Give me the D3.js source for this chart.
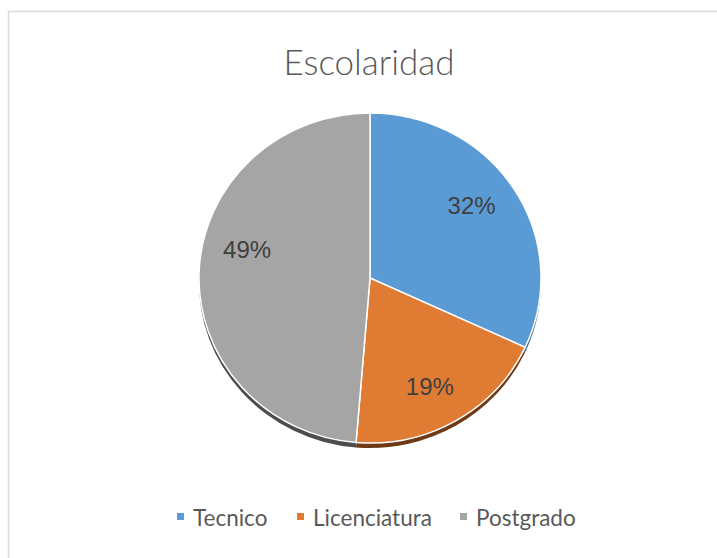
<html>
  <head>
    <meta charset="UTF-8">
    <title>Escolaridad</title>
    <style>
      body { margin: 0; background: #fff; }
      .title { font: 300 35px Lato, "Open Sans", sans-serif; fill: #595959; }
      .label { font: 24px "Liberation Sans", Arial, sans-serif; fill: #404040; }
      .legend text { font: 22.5px Lato, "Open Sans", sans-serif; fill: #595959; }
    </style>
    <script src="https://cdn.jsdelivr.net/npm/d3@7"></script>
  </head>
  <body>
    <script>
      // Chart data
      var categories = ["Tecnico", "Licenciatura", "Postgrado"];
      var values = [31.9, 19.4, 48.7];
      var colors = ["#5b9bd5", "#e07b33", "#a5a5a5"];
      var sideColors = ["#3a6a96", "#6e3a16", "#4d4d4d"];

      // layout: small angular nudge (degrees) of each percent label, like Excel's best fit
      var labelNudge = [-4, 2, 11.5];

      var width = 717, height = 558;
      var cx = 370, cy = 278, rx = 171, ry = 165, depth = 5;

      var svg = d3.select("body").append("svg")
          .attr("width", width)
          .attr("height", height);

      // chart area border
      svg.append("rect")
          .attr("x", 8.5).attr("y", 11.5)
          .attr("width", 720).attr("height", 560)
          .attr("fill", "#fff")
          .attr("stroke", "#d9d9d9")
          .attr("stroke-width", 1.5);

      svg.append("text")
          .attr("class", "title")
          .attr("x", 369).attr("y", 75)
          .attr("text-anchor", "middle")
          .text("Escolaridad");

      var pie = d3.pie().sort(null).value(function(d) { return d; });
      var arcs = pie(values);
      var arc = d3.arc().innerRadius(0).outerRadius(rx);

      // 3D side band (drawn below the top face)
      var sideG = svg.append("g")
          .attr("transform", "translate(" + cx + "," + (cy + depth) + ") scale(1," + (ry / rx) + ")");
      sideG.selectAll("path")
          .data(arcs)
          .enter().append("path")
          .attr("d", arc)
          .attr("fill", function(d, i) { return sideColors[i]; });

      var faceG = svg.append("g")
          .attr("transform", "translate(" + cx + "," + cy + ") scale(1," + (ry / rx) + ")");
      faceG.selectAll("path")
          .data(arcs)
          .enter().append("path")
          .attr("d", arc)
          .attr("fill", function(d, i) { return colors[i]; })
          .attr("stroke", "#fff")
          .attr("stroke-width", 1.5);

      // percent labels
      var labelR = rx * 0.74;
      var total = d3.sum(values);
      function labelPos(d, i) {
          var a = (d.startAngle + d.endAngle) / 2 + labelNudge[i] * Math.PI / 180;
          return [cx + labelR * Math.sin(a), cy - labelR * Math.cos(a) * ry / rx];
      }
      svg.selectAll(".label")
          .data(arcs)
          .enter().append("text")
          .attr("class", "label")
          .attr("text-anchor", "middle")
          .attr("x", function(d, i) { return labelPos(d, i)[0]; })
          .attr("y", function(d, i) { return labelPos(d, i)[1] + 9; })
          .text(function(d) { return Math.round(d.value / total * 100) + "%"; });

      // legend
      var legendX = [177, 297, 460];
      var legend = svg.append("g").attr("class", "legend");
      var item = legend.selectAll("g")
          .data(categories)
          .enter().append("g")
          .attr("transform", function(d, i) { return "translate(" + legendX[i] + ",513)"; });
      item.append("rect")
          .attr("width", 7).attr("height", 7)
          .attr("fill", function(d, i) { return colors[i]; });
      item.append("text")
          .attr("x", 16).attr("y", 12.5)
          .text(function(d) { return d; });
    </script>
  </body>
</html>
